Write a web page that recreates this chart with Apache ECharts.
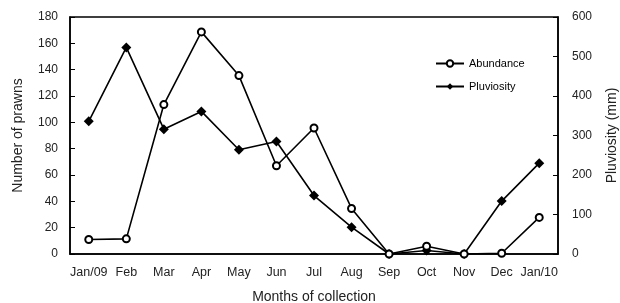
<!DOCTYPE html>
<html>
<head>
<meta charset="utf-8">
<script src="https://cdn.jsdelivr.net/npm/echarts@6/dist/echarts.min.js"></script>
<style>
  html, body { margin: 0; padding: 0; background: #fff; }
  #chart { width: 620px; height: 303px; }
</style>
</head>
<body>
<div id="chart"></div>
<script>
// months of collection
const months = ['Jan/09', 'Feb', 'Mar', 'Apr', 'May', 'Jun', 'Jul', 'Aug', 'Sep', 'Oct', 'Nov', 'Dec', 'Jan/10']
// number of prawns (left axis)
const abundance = [11, 11.5, 113.5, 168.7, 135.5, 67, 95.7, 34.6, 0, 5.9, 0, 0.6, 27.8]
// rainfall in mm (right axis)
const pluviosity = [336, 523, 316, 361, 264, 285, 148, 68, 0, 9, 0, 134, 230]

const leftTicks = [0, 180, 20]
const rightTicks = [0, 600, 100]

const font = 'Liberation Sans, Arial, sans-serif'
const black = '#000'

const chart = echarts.init(document.getElementById('chart'), null, { renderer: 'canvas' })

chart.setOption({
  animation: false,
  backgroundColor: '#fff',
  grid: {
    left: 70,
    right: 62,
    top: 17,
    bottom: 49,
    containLabel: false,
    outerBoundsMode: 'none',
    show: true,
    borderColor: black,
    borderWidth: 1.5,
    backgroundColor: 'transparent'
  },
  legend: {
    orient: 'vertical',
    left: 430,
    top: 53,
    itemWidth: 28,
    itemHeight: 8,
    itemGap: 12,
    textStyle: { fontFamily: 'Liberation Sans Narrow, Liberation Sans, sans-serif', fontSize: 11, color: black },
    data: ['Abundance', 'Pluviosity']
  },
  xAxis: {
    type: 'category',
    data: months,
    boundaryGap: true,
    name: 'Months of collection',
    nameLocation: 'middle',
    nameGap: 36,
    nameTextStyle: { fontFamily: font, fontSize: 14, color: '#222' },
    axisLine: { lineStyle: { color: black, width: 1.5 } },
    axisTick: { inside: true, length: 5, interval: 0, lineStyle: { color: black, width: 1 } },
    axisLabel: { fontFamily: font, fontSize: 12.5, color: '#222', margin: 12, interval: 0 },
    splitLine: { show: false }
  },
  yAxis: [
    {
      type: 'value',
      min: leftTicks[0],
      max: leftTicks[1],
      interval: leftTicks[2],
      name: 'Number of prawns',
      nameLocation: 'middle',
      nameGap: 45,
      nameTextStyle: { fontFamily: font, fontSize: 14, color: '#222' },
      axisLine: { show: true, lineStyle: { color: black, width: 1.5 } },
      axisTick: { show: true, inside: true, length: 5, lineStyle: { color: black } },
      axisLabel: { fontFamily: font, fontSize: 12, color: '#222', margin: 12 },
      splitLine: { show: false }
    },
    {
      type: 'value',
      position: 'right',
      min: rightTicks[0],
      max: rightTicks[1],
      interval: rightTicks[2],
      name: 'Pluviosity (mm)',
      nameLocation: 'middle',
      nameGap: 47,
      nameRotate: 90,
      nameTextStyle: { fontFamily: font, fontSize: 14, color: '#222' },
      axisLine: { show: true, lineStyle: { color: black, width: 1.5 } },
      axisTick: { show: true, inside: true, length: 5, lineStyle: { color: black } },
      axisLabel: { fontFamily: font, fontSize: 12, color: '#222', margin: 14 },
      splitLine: { show: false }
    }
  ],
  series: [
    {
      name: 'Abundance',
      type: 'line',
      yAxisIndex: 0,
      data: abundance,
      symbol: 'emptyCircle',
      symbolSize: 7,
      lineStyle: { color: black, width: 1.6 },
      itemStyle: { color: black, borderColor: black, borderWidth: 1.6 },
      z: 3
    },
    {
      name: 'Pluviosity',
      type: 'line',
      yAxisIndex: 1,
      data: pluviosity,
      symbol: 'diamond',
      symbolSize: 10,
      lineStyle: { color: black, width: 1.6 },
      itemStyle: { color: black },
      z: 2
    }
  ]
})
</script>
</body>
</html>
